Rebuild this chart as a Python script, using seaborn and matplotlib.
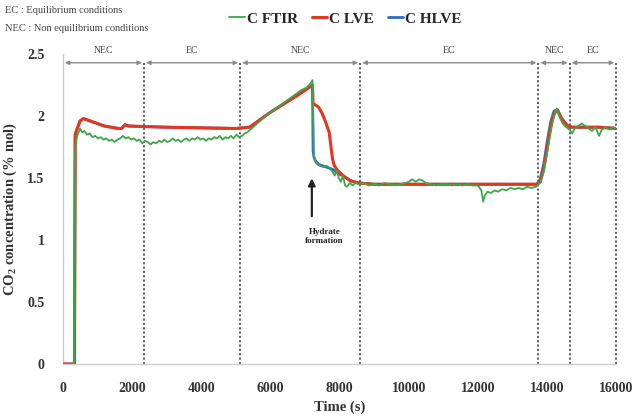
import matplotlib
matplotlib.use('Agg')
from matplotlib import pyplot as plt
import seaborn as sns
import pandas as pd


# ---------- DATA ----------
ftir_t = [0, 330, 360, 420, 500, 560, 620, 700, 780, 860, 940, 1020, 1100, 1180, 1260, 1340,
          1420, 1500, 1580, 1660, 1740, 1820, 1900, 1980, 2060, 2140, 2220, 2300, 2380, 2460,
          2540, 2620, 2700, 2780, 2860, 2940, 3020, 3100, 3180, 3260, 3340, 3420, 3500, 3580,
          3660, 3740, 3820, 3900, 3980, 4060, 4140, 4220, 4300, 4380, 4460, 4540, 4620, 4700,
          4780, 4860, 4940, 5020, 5100, 5180, 5260, 5340, 5500, 5700, 5900, 6100, 6300, 6500,
          6700, 6900, 7050, 7150, 7220, 7240, 7260, 7320, 7420, 7520, 7620, 7720, 7800, 7860,
          7920, 7980, 8040, 8100, 8160, 8220, 8300, 8380, 8460, 8560, 8700, 8850, 9000, 9150,
          9300, 9450, 9600, 9750, 9900, 10000, 10100, 10200, 10300, 10400, 10500, 10650, 10800,
          10950, 11100, 11250, 11400, 11550, 11700, 11850, 12000, 12100, 12150, 12200, 12280,
          12380, 12480, 12580, 12700, 12820, 12940, 13060, 13180, 13300, 13420, 13540, 13680,
          13800, 13900, 14000, 14100, 14200, 14280, 14350, 14450, 14550, 14650, 14720, 14800,
          14900, 15000, 15100, 15200, 15300, 15400, 15500, 15580, 15700, 15800, 15900, 16000]
ftir_c = [0, 0, 1.75, 1.84, 1.90, 1.87, 1.88, 1.85, 1.86, 1.83, 1.84, 1.82, 1.83, 1.81, 1.82, 1.80,
          1.81, 1.79, 1.81, 1.82, 1.84, 1.82, 1.83, 1.81, 1.82, 1.80, 1.81, 1.78, 1.80, 1.79,
          1.77, 1.79, 1.78, 1.80, 1.79, 1.81, 1.79, 1.80, 1.82, 1.80, 1.81, 1.79, 1.81, 1.82,
          1.80, 1.82, 1.81, 1.83, 1.81, 1.82, 1.80, 1.82, 1.81, 1.83, 1.82, 1.84, 1.81, 1.83,
          1.82, 1.84, 1.82, 1.85, 1.83, 1.84, 1.86, 1.87, 1.91, 1.96, 2.01, 2.05, 2.09, 2.13,
          2.17, 2.21, 2.23, 2.26, 2.29, 1.95, 1.68, 1.62, 1.60, 1.59, 1.60, 1.58, 1.55, 1.52,
          1.56, 1.50, 1.47, 1.52, 1.44, 1.43, 1.46, 1.44, 1.46, 1.45, 1.46, 1.44, 1.45, 1.44,
          1.46, 1.45, 1.44, 1.45, 1.46, 1.47, 1.49, 1.47, 1.49, 1.48, 1.46, 1.45, 1.44,
          1.45, 1.45, 1.44, 1.45, 1.44, 1.45, 1.44, 1.44, 1.40, 1.31, 1.36, 1.39,
          1.38, 1.40, 1.39, 1.41, 1.40, 1.42, 1.41, 1.42, 1.41, 1.43, 1.42, 1.43,
          1.46, 1.55, 1.70, 1.87, 2.00, 2.06, 2.00, 1.94, 1.91, 1.89, 1.86, 1.90,
          1.92, 1.94, 1.92, 1.90, 1.88, 1.91, 1.84, 1.89, 1.91, 1.89, 1.91, 1.90]

lve_t = [0, 340, 360, 420, 500, 600, 800, 1000, 1200, 1400, 1600, 1700, 1800, 1900, 2400, 3000,
         4000, 5000, 5400, 5700, 6000, 6400, 6800, 7220, 7235, 7300, 7400, 7500, 7600, 7700,
         7800, 7850, 7950, 8100, 8300, 8550, 9000, 11000, 13700, 13800, 13900, 14000, 14100,
         14200, 14300, 14400, 14500, 14600, 14730, 15500, 16000]
lve_c = [0, 0, 1.85, 1.90, 1.96, 1.98, 1.96, 1.94, 1.92, 1.91, 1.90, 1.90, 1.93, 1.92, 1.915, 1.91,
         1.905, 1.90, 1.91, 1.97, 2.03, 2.10, 2.17, 2.25, 2.10, 2.09, 2.07, 2.02, 1.95, 1.87,
         1.65, 1.60, 1.56, 1.52, 1.48, 1.46, 1.45, 1.45, 1.45, 1.47, 1.57, 1.74, 1.91,
         2.02, 2.05, 1.99, 1.95, 1.92, 1.91, 1.91, 1.90]

hlve_t = [0, 340, 360, 420, 500, 600, 800, 1000, 1200, 1400, 1600, 1700, 1800, 1900, 2400, 3000,
          4000, 5000, 5400, 5700, 6000, 6400, 6800, 7220, 7235, 7260, 7300, 7400, 7500, 7600,
          7700, 7800, 7900, 8000, 8100, 8300, 8550, 9000, 11000, 13700, 13800, 13900, 14000,
          14100, 14200, 14300, 14400, 14500, 14600, 14730, 15500, 16000]
hlve_c = [0, 0, 1.85, 1.90, 1.96, 1.98, 1.96, 1.94, 1.92, 1.91, 1.90, 1.90, 1.93, 1.92, 1.915, 1.91,
          1.905, 1.90, 1.91, 1.97, 2.03, 2.10, 2.17, 2.25, 1.72, 1.67, 1.64, 1.61, 1.60, 1.59,
          1.58, 1.57, 1.55, 1.53, 1.52, 1.48, 1.46, 1.45, 1.45, 1.45, 1.49, 1.61, 1.79,
          1.95, 2.04, 2.05, 1.99, 1.95, 1.92, 1.91, 1.91, 1.90]

# meje obmocij (s) in njihove oznake
meje = [0, 2350, 5130, 8600, 13750, 14650, 16000]
oznake = ['NEC', 'EC', 'NEC', 'EC', 'NEC', 'EC']

x_ticks = [0, 2000, 4000, 6000, 8000, 10000, 12000, 14000, 16000]
y_ticks = [0, 0.5, 1, 1.5, 2, 2.5]
y_tick_labels = ['0', '0.5', '1', '1.5', '2', '2.5']


# ---------- IZRIS ----------
sns.set_style('white')
plt.rcParams['font.family'] = ['Liberation Serif', 'DejaVu Serif']
plt.rcParams['mathtext.fontset'] = 'custom'
plt.rcParams['mathtext.rm'] = 'Liberation Serif:bold'
plt.rcParams['mathtext.it'] = 'Liberation Serif:bold'
plt.rcParams['mathtext.bf'] = 'Liberation Serif:bold'

ftir_df = pd.DataFrame({'t': ftir_t, 'c': ftir_c})
lve_df = pd.DataFrame({'t': lve_t, 'c': lve_c})
hlve_df = pd.DataFrame({'t': hlve_t, 'c': hlve_c})

fig = plt.figure(figsize=(6.4, 4.16), dpi=100)
ax = fig.add_axes([0.098, 0.125, 0.865, 0.745])

zelena = '#3ea64a'
rdeca = '#e5371f'
modra = '#2d6cc4'

sns.lineplot(data=ftir_df, x='t', y='c', ax=ax, color=zelena, lw=1.3, label='C FTIR',
             estimator=None, sort=False, zorder=4)
sns.lineplot(data=lve_df, x='t', y='c', ax=ax, color=rdeca, lw=2.2, label='C LVE',
             estimator=None, sort=False, zorder=3)
sns.lineplot(data=hlve_df, x='t', y='c', ax=ax, color=modra, lw=2.0, label='C HLVE',
             estimator=None, sort=False, zorder=2)

# navpicne pikcaste crte in puscice za obmocja
for m in meje[1:]:
    ax.plot([m, m], [0, 2.43], ls=(0, (1.2, 1.2)), color='#555555', lw=1.3, zorder=1, clip_on=False)
for i, oz in enumerate(oznake):
    a, b = meje[i], meje[i + 1]
    ax.annotate('', xy=(a + 60, 2.43), xytext=(b - 60, 2.43),
                arrowprops=dict(arrowstyle='<|-|>', color='#8a8a8a', lw=1.0,
                                mutation_scale=6, shrinkA=0, shrinkB=0),
                annotation_clip=False)
    ax.text((a + b) / 2, 2.53, oz, ha='center', va='center', fontsize=7, color='#444444')

# nastanek hidratov
ax.annotate('', xy=(7200, 1.52), xytext=(7200, 1.17),
            arrowprops=dict(arrowstyle='-|>', color='#222222', lw=1.6, mutation_scale=10))
ax.text(7560, 1.03, 'Hydrate\nformation', ha='center', va='center', fontsize=6.5,
        fontweight='bold', color='#222222', linespacing=1.1)

ax.set_xlim(0, 16000)
ax.set_ylim(0, 2.5)
ax.set_xticks(x_ticks)
ax.set_xticklabels([str(x) for x in x_ticks], fontsize=10, fontweight='bold', color='#333333')
ax.set_yticks(y_ticks)
ax.set_yticklabels(y_tick_labels, fontsize=10, fontweight='bold', color='#333333')
ax.tick_params(axis='both', length=3, color='#cccccc', pad=10)
for s in ['top', 'right']:
    ax.spines[s].set_visible(False)
for s in ['left', 'bottom']:
    ax.spines[s].set_color('#cccccc')
    ax.spines[s].set_linewidth(1.0)

ax.set_xlabel('Time (s)', fontsize=10.5, fontweight='bold', color='#333333', labelpad=4)
ax.set_ylabel(r'CO$_2$ concentration (% mol)', fontsize=10.5, fontweight='bold', color='#333333',
              labelpad=6)

ax.legend(loc='center', bbox_to_anchor=(0.54, 0.955), bbox_transform=fig.transFigure, ncol=3,
          frameon=False, handlelength=1.0, handletextpad=0.15, columnspacing=0.9,
          prop={'family': 'Liberation Serif', 'weight': 'bold', 'size': 11})

fig.text(0.008, 0.975, 'EC : Equilibrium conditions', fontsize=7.5, color='#444444', va='center')
fig.text(0.008, 0.932, 'NEC : Non equilibrium conditions', fontsize=7.5, color='#444444', va='center')

fig.savefig('out.png', dpi=100)
